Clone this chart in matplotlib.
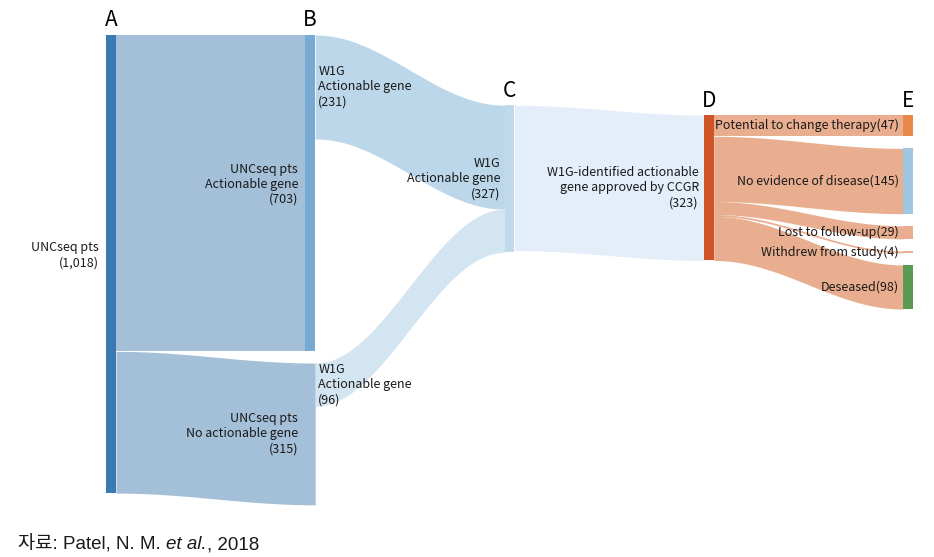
import numpy as np
import matplotlib
matplotlib.use("Agg")
import matplotlib.pyplot as plt
from matplotlib.patches import Rectangle

plt.rcParams['font.family'] = ['Noto Sans CJK KR', 'DejaVu Sans']

# data
column_names = ["A", "B", "C", "D", "E"]
a_total = 1018
b_values = [703, 315]
b_labels = ["UNCseq pts\nActionable gene", "UNCseq pts\nNo actionable gene"]
bc_values = [231, 96]
bc_labels = ["W1G\nActionable gene", "W1G\nActionable gene"]
c_total = 327
cd_value = 323
e_values = [47, 145, 29, 4, 98]
e_labels = ["Potential to change therapy", "No evidence of disease",
            "Lost to follow-up", "Withdrew from study", "Deseased"]

# layout (value units on y, column units on x)
gap_b = 26
gap_e = 27
c_top = 156
d_top = 178
bar_w = 0.05
px = 1 / 199.25

# colours
col_a = "#3b79b4"
col_ab = "#a4bfd8"
col_b1 = "#76aad3"
col_bc = ["#bcd7ea", "#d3e5f1"]
col_c = "#c0d9eb"
col_cd = "#e3eef9"
col_d = "#d05526"
col_de = "#e9ae8f"
col_e = ["#e8894a", "#a0c6e2", col_de, col_de, "#5b9a52"]
txt = "#1a1a1a"


def flow(ax, x0, x1, t0, b0, t1, b1, color):
    xs = np.linspace(x0, x1, 120)
    s = (1 - np.cos(np.pi * (xs - x0) / (x1 - x0))) / 2
    ax.fill_between(xs, t0 + (t1 - t0) * s, b0 + (b1 - b0) * s,
                    color=color, lw=0)


def bar(ax, x, top, h, color):
    ax.add_patch(Rectangle((x, top), bar_w, h, color=color, lw=0))


fig = plt.figure(figsize=(9.34, 5.57), dpi=100)
ax = fig.add_axes([0, 0, 1, 1])
ax.set_xlim(-106 * px, 828 * px)
ax.set_ylim(1160, -77.8)
ax.axis('off')

xa, xb, xc, xd, xe = 0, 1, 2, 3, 4

# A -> B
b_tops = [0, b_values[0] + gap_b]
a_pos = 0
for i, v in enumerate(b_values):
    end = xb if i == 0 else xb + bar_w
    flow(ax, xa + bar_w, end, a_pos, a_pos + v, b_tops[i], b_tops[i] + v, col_ab)
    a_pos += v
bar(ax, xa, 0, a_total, col_a)
bar(ax, xb, b_tops[0], b_values[0], col_b1)

# B -> C
c_pos = c_top
for i, v in enumerate(bc_values):
    flow(ax, xb + bar_w, xc, b_tops[i], b_tops[i] + v, c_pos, c_pos + v, col_bc[i])
    c_pos += v
bar(ax, xc, c_top, c_total, col_c)

# C -> D
flow(ax, xc + bar_w, xd, c_top, c_top + cd_value, d_top, d_top + cd_value, col_cd)
bar(ax, xd, d_top, cd_value, col_d)

# D -> E
d_pos = d_top
e_pos = d_top
e_tops = []
for i, v in enumerate(e_values):
    flow(ax, xd + bar_w, xe, d_pos, d_pos + v, e_pos, e_pos + v, col_de)
    bar(ax, xe, e_pos, v, col_e[i])
    e_tops.append(e_pos)
    d_pos += v
    e_pos += v + gap_e

# labels
fs = 9
ax.text(xa - 7 * px, a_total / 2 - 20, "UNCseq pts\n({:,})".format(a_total),
        ha='right', va='center', fontsize=fs, color=txt)
for i, v in enumerate(b_values):
    shift = -20 if i == 0 else 0
    ax.text(xb - 7 * px, b_tops[i] + v / 2 + shift, "{}\n({})".format(b_labels[i], v),
            ha='right', va='center', fontsize=fs, color=txt)
    ax.text(xb + bar_w + 3 * px, b_tops[i] + bc_values[i] / 2,
            "{}\n({})".format(bc_labels[i], bc_values[i]),
            ha='left', va='center', fontsize=fs, color=txt)
ax.text(xc - 4 * px, c_top + c_total / 2, "W1G\nActionable gene\n({})".format(c_total),
        ha='right', va='center', fontsize=fs, color=txt)
ax.text(xd - 5 * px, d_top + cd_value / 2,
        "W1G-identified actionable\ngene approved by CCGR\n({})".format(cd_value),
        ha='right', va='center', fontsize=fs, color=txt)
for i, v in enumerate(e_values):
    ax.text(xe - 4 * px, e_tops[i] + v / 2, "{}({})".format(e_labels[i], v),
            ha='right', va='center', fontsize=fs, color=txt)

# column letters
col_tops = [0, 0, c_top, d_top, d_top]
for i, name in enumerate(column_names):
    ax.text(i + bar_w / 2, col_tops[i] - 8, name, ha='center', va='bottom',
            fontsize=15, color='black')

# source
src_font = ['Liberation Sans', 'Noto Sans CJK KR']
t1 = fig.text(18 / 934, 1 - 549 / 557, "자료: Patel, N. M. ", fontsize=13.5,
              family=src_font, color=txt)
t2 = ax.annotate("et al.", xy=(1, 0), xycoords=t1, va='bottom', fontsize=13.5,
                 family=src_font, style='italic', color=txt)
ax.annotate(", 2018", xy=(1, 0), xycoords=t2, va='bottom', fontsize=13.5,
            family=src_font, color=txt)

fig.savefig("out.png", dpi=100)
